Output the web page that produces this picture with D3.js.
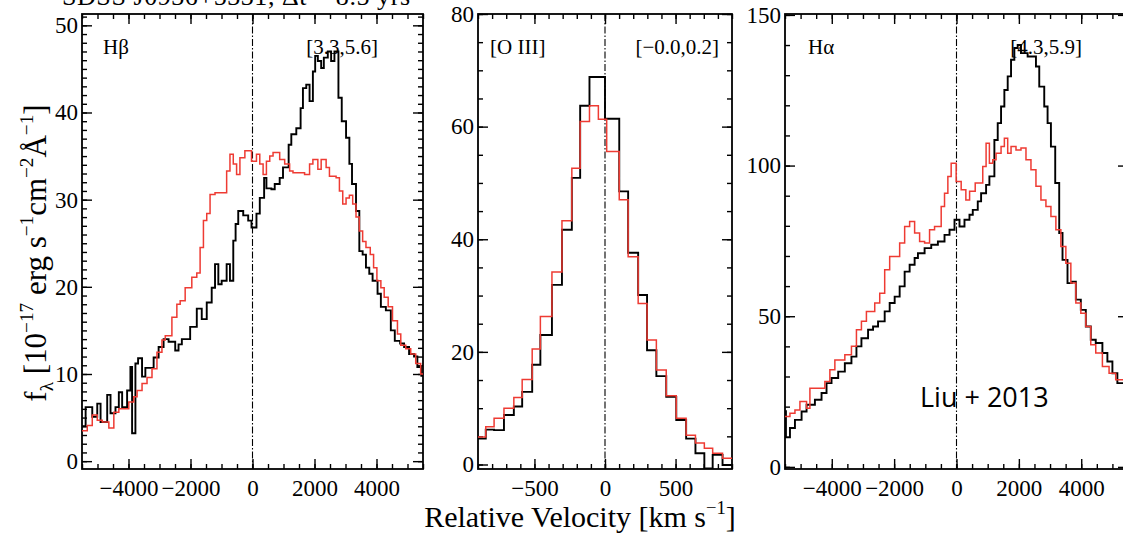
<!DOCTYPE html>
<html>
<head>
<meta charset="utf-8">
<script src="https://cdn.jsdelivr.net/npm/d3@7"></script>
<style>
body { margin: 0; background: #fff; }
svg text { font-family: "Liberation Serif", "Times New Roman", serif; fill: #000; }
</style>
</head>
<body>
<div id="chart"></div>
<script>
// ---- data (velocity = left edge of each step, km/s) ----
var hbBlackVel = [-5500,-5383,-5169,-5008,-4901,-4687,-4580,-4420,-4312,-4205,-4045,-3938,-3884,-3777,-3691,-3563,-3456,-3189,-3028,-2868,-2707,-2493,-2386,-2279,-2011,-1797,-1637,-1476,-1316,-1209,-1102,-995,-834,-727,-620,-545,-460,-299,-139,-32,128,235,375,449,610,717,877,984,1166,1252,1413,1552,1627,1734,1841,1948,2022,2108,2215,2301,2429,2536,2643,2772,2879,3018,3125,3210,3339,3446,3553,3660,3767,3874,4034,4141,4302,4462,4590,4762,4890,5051,5211,5318,5447];
var hbBlackFlux = [4.0,6.2,5.1,6.6,4.5,7.6,5.5,6.2,7.9,6.2,8.1,10.8,3.2,11.2,11.8,9.7,10.7,11.9,13.1,14.0,13.7,12.7,13.4,14.0,15.4,17.5,16.3,18.2,19.9,22.6,20.3,20.7,22.6,20.7,25.3,27.2,28.7,28.2,27.6,26.8,28.4,30.2,32.5,31.3,31.2,31.8,32.5,33.7,36.3,37.5,38.2,40.5,42.8,43.2,41.3,44.7,46.5,45.9,45.1,46.3,47.0,45.9,47.0,41.7,39.0,37.1,34.1,31.8,28.7,24.1,23.7,22.2,21.5,20.7,19.2,17.7,17.3,15.0,13.8,13.5,13.1,12.3,12.0,10.8,9.8];
var hbRedVel = [-5500,-5330,-5169,-5008,-4848,-4634,-4473,-4312,-3991,-3830,-3723,-3563,-3402,-3242,-3082,-2921,-2814,-2600,-2440,-2333,-2172,-1958,-1797,-1690,-1583,-1476,-1369,-1209,-834,-727,-620,-513,-406,-246,-32,128,235,342,449,556,663,877,1038,1198,1306,1680,1841,1948,2108,2215,2375,2482,2697,2804,2911,3018,3125,3232,3339,3446,3553,3660,3799,3906,4013,4141,4248,4377,4516,4676,4783,4944,5104,5265,5425];
var hbRedFlux = [3.5,4.1,5.3,4.7,4.5,3.8,5.6,6.0,6.8,7.4,8.1,8.9,9.6,10.6,12.5,13.9,14.4,16.5,18.0,18.4,19.9,21.1,21.6,24.5,27.6,28.4,30.6,30.8,33.3,35.2,34.1,32.9,34.8,35.6,34.4,35.2,34.1,32.9,34.4,35.0,35.4,34.6,34.1,33.3,33.1,32.9,34.1,34.6,33.5,34.6,33.7,32.7,32.5,31.0,29.5,30.2,30.5,29.5,28.0,26.4,25.2,24.5,23.7,22.2,20.7,19.9,18.8,17.7,16.1,14.6,13.3,12.9,12.3,11.2,10.0];

var oiiiBlackVel = [-900,-845,-786,-716,-646,-587,-516,-458,-376,-305,-235,-176,-110,0,101,164,235,298,364,434,505,575,641,704,763,833];
var oiiiBlackFlux = [4.6,6.2,6.1,8.8,10.3,12.9,17.7,23.0,31.9,41.7,50.9,63.7,68.8,61.4,48.5,37.6,30.1,20.3,15.7,12.0,7.9,4.6,2.0,-0.7,1.7,-0.1];
var oiiiRedVel = [-900,-845,-786,-716,-646,-587,-516,-458,-376,-305,-235,-176,-110,-47,12,101,164,235,298,364,434,505,575,641,704,763,833];
var oiiiRedFlux = [4.9,6.7,8.2,10.0,11.9,15.1,20.5,26.3,34.2,43.3,52.6,60.9,63.7,61.3,55.6,47.0,36.9,28.6,22.1,16.8,12.2,8.2,5.2,3.8,2.9,2.0,1.1];

var haBlackVel = [-5500,-5470,-5341,-5181,-4968,-4808,-4541,-4328,-4168,-4008,-3794,-3581,-3369,-3209,-3049,-2836,-2676,-2516,-2303,-2143,-1983,-1823,-1663,-1503,-1343,-1237,-1023,-810,-597,-384,-224,-64,96,256,416,522,682,789,949,1055,1215,1322,1429,1535,1642,1749,1855,1962,2068,2281,2548,2654,2814,2921,3028,3166,3294,3400,3560,3699,3827,3987,4147,4306,4466,4679,4839,5000,5159];
var haBlackFlux = [18.5,9.8,12.9,15.6,18.4,20.6,22.3,24.5,27.8,29.5,31.6,34.4,36.6,40.0,42.7,45.5,46.6,48.3,51.6,54.4,56.5,59.9,64.8,67.1,69.3,70.9,72.6,73.7,74.8,77.0,78.7,82.0,79.8,82.0,83.7,85.3,88.1,90.8,93.6,96.4,108.5,114.1,119.6,125.1,129.6,135.1,139.0,140.0,137.3,136.2,132.9,126.2,119.6,114.1,106.3,94.2,77.6,68.7,61.0,61.5,55.5,52.1,46.6,42.2,41.1,37.8,35.0,31.1,27.8];
var haRedVel = [-5500,-5341,-5181,-5021,-4808,-4701,-4222,-4061,-3901,-3581,-3369,-3209,-3049,-2889,-2622,-2462,-2303,-2143,-1823,-1663,-1503,-1343,-1183,-1023,-864,-704,-491,-384,-277,-171,-11,150,300,420,600,842,949,1055,1162,1269,1429,1535,1642,1749,1908,2068,2228,2388,2548,2708,2868,3028,3187,3347,3507,3667,3827,3987,4147,4306,4466,4679,4893,5106];
var haRedFlux = [16.7,17.8,18.9,21.7,19.5,26.1,28.3,32.2,35.5,37.2,40.0,45.5,48.3,51.6,54.4,57.6,65.4,69.8,74.3,79.8,81.4,77.6,74.8,74.3,78.7,79.8,86.4,90.8,96.4,100.8,94.7,92.0,88.6,91.5,94.2,99.7,107.4,100.8,101.9,104.1,106.3,109.1,104.1,106.3,105.2,105.8,101.9,98.6,93.1,88.6,86.4,83.1,78.7,73.1,67.6,61.0,54.4,51.0,46.6,40.5,37.8,33.3,31.1,28.9];

var broadVelTicks = [-4000, -2000, 0, 2000, 4000];
var narrowVelTicks = [-500, 0, 500];
var hbFluxTicks = [0, 10, 20, 30, 40, 50];
var oiiiFluxTicks = [0, 20, 40, 60, 80];
var haFluxTicks = [0, 50, 100, 150];

var lineNames = ["H\u03b2", "[O III]", "H\u03b1"];
var lineRanges = ["[3.3,5.6]", "[\u22120.0,0.2]", "[4.3,5.9]"];

// ---- layout ----
var W = 1123, H = 540;
var plotTop = 14, plotBottom = 469;
var red = "#ee3b33";

var panels = [
	{ x0: 82, x1: 423, xDom: [-5500, 5500], yDom: [-0.9, 51.3], xTicks: broadVelTicks, xMinor: 500,
	  yTicks: hbFluxTicks, yMinor: 1, black: [hbBlackVel, hbBlackFlux], red: [hbRedVel, hbRedFlux],
	  name: lineNames[0], range: lineRanges[0], nameX: 103, rangeX: 378 },
	{ x0: 478, x1: 732, xDom: [-900, 900], yDom: [-0.8, 80], xTicks: narrowVelTicks, xMinor: 100,
	  yTicks: oiiiFluxTicks, yMinor: 5, black: [oiiiBlackVel, oiiiBlackFlux], red: [oiiiRedVel, oiiiRedFlux],
	  name: lineNames[1], range: lineRanges[1], nameX: 490, rangeX: 719 },
	{ x0: 785, x1: 1128, xDom: [-5500, 5500], yDom: [-0.7, 150.3], xTicks: broadVelTicks, xMinor: 500,
	  yTicks: haFluxTicks, yMinor: 10, black: [haBlackVel, haBlackFlux], red: [haRedVel, haRedFlux],
	  name: lineNames[2], range: lineRanges[2], nameX: 808, rangeX: 1082 }
];

var svg = d3.select("#chart").append("svg")
	.attr("width", W)
	.attr("height", H);

function minorValues(dom, step) {
	return d3.range(Math.ceil(dom[0] / step) * step, dom[1] + 1e-9, step);
}

function styleAxis(g) {
	g.select(".domain").remove();
	g.selectAll("line").attr("stroke", "#000").attr("stroke-width", 1.4);
	g.attr("font-family", "Liberation Serif, serif").attr("font-size", 23);
}

// tick marks only, no label elements
function bare(g) {
	styleAxis(g);
	g.selectAll("text").remove();
}

panels.forEach(function(p, i) {
	var x = d3.scaleLinear().domain(p.xDom).range([p.x0, p.x1]);
	var y = d3.scaleLinear().domain(p.yDom).range([plotBottom, plotTop]);
	var g = svg.append("g");

	// clip for the spectra
	var clipId = "clip" + i;
	svg.append("clipPath").attr("id", clipId)
		.append("rect")
			.attr("x", p.x0).attr("y", plotTop)
			.attr("width", p.x1 - p.x0).attr("height", plotBottom - plotTop);

	// axes: major + minor on all four sides, ticks pointing inward
	var xMin = minorValues(p.xDom, p.xMinor);
	var yMin = minorValues([Math.max(0, p.yDom[0]), p.yDom[1]], p.yMinor);

	g.append("g").attr("transform", "translate(0," + plotBottom + ")")
		.call(d3.axisBottom(x).tickValues(xMin).tickSize(-5))
		.call(bare);
	g.append("g").attr("transform", "translate(0," + plotBottom + ")")
		.call(d3.axisBottom(x).tickValues(p.xTicks).tickSize(-10).tickPadding(11).tickFormat(d3.format("d")))
		.call(styleAxis);
	g.append("g").attr("transform", "translate(0," + plotTop + ")")
		.call(d3.axisTop(x).tickValues(xMin).tickSize(-5))
		.call(bare);
	g.append("g").attr("transform", "translate(0," + plotTop + ")")
		.call(d3.axisTop(x).tickValues(p.xTicks).tickSize(-10))
		.call(bare);

	g.append("g").attr("transform", "translate(" + p.x0 + ",0)")
		.call(d3.axisLeft(y).tickValues(yMin).tickSize(-5))
		.call(bare);
	g.append("g").attr("transform", "translate(" + p.x0 + ",0)")
		.call(d3.axisLeft(y).tickValues(p.yTicks).tickSize(-10).tickPadding(4).tickFormat(d3.format("d")))
		.call(styleAxis);
	g.append("g").attr("transform", "translate(" + p.x1 + ",0)")
		.call(d3.axisRight(y).tickValues(yMin).tickSize(-5))
		.call(bare);
	g.append("g").attr("transform", "translate(" + p.x1 + ",0)")
		.call(d3.axisRight(y).tickValues(p.yTicks).tickSize(-10))
		.call(bare);

	// frame
	g.append("rect")
		.attr("x", p.x0).attr("y", plotTop)
		.attr("width", p.x1 - p.x0).attr("height", plotBottom - plotTop)
		.style("fill", "none").style("stroke", "#000").style("stroke-width", 1.8);

	// zero-velocity dash-dot line
	g.append("line")
		.attr("x1", x(0)).attr("x2", x(0))
		.attr("y1", plotTop).attr("y2", plotBottom)
		.style("stroke", "#000").style("stroke-width", 1.1)
		.style("stroke-dasharray", "7,2,1.5,2");

	// the two spectra as step curves
	var line = d3.line()
		.x(function(d) { return x(d[0]); })
		.y(function(d) { return y(d[1]); })
		.curve(d3.curveStepAfter);

	function steps(s) {
		var pts = s[0].map(function(v, k) { return [v, s[1][k]]; });
		pts.push([p.xDom[1], s[1][s[1].length - 1]]);
		return pts;
	}

	var spec = g.append("g").attr("clip-path", "url(#" + clipId + ")");
	spec.append("path").attr("d", line(steps(p.black)))
		.style("fill", "none").style("stroke", "#000").style("stroke-width", 1.9);
	spec.append("path").attr("d", line(steps(p.red)))
		.style("fill", "none").style("stroke", red).style("stroke-width", 1.5);

	// line name and range labels
	g.append("text").attr("x", p.nameX).attr("y", 54)
		.attr("font-size", 21).text(p.name);
	g.append("text").attr("x", p.rangeX).attr("y", 54)
		.attr("text-anchor", "end").attr("font-size", 21).text(p.range);
});

// text with super/subscripts
function richText(sel, parts, size) {
	var shift = 0;
	parts.forEach(function(part) {
		var want = part.sup ? -size * 0.42 : (part.sub ? size * 0.22 : 0);
		var t = sel.append("tspan").attr("dy", want - shift).text(part.t);
		if (part.sup || part.sub) t.attr("font-size", size * 0.62);
		shift = want;
	});
}

// y axis title
var yTitle = svg.append("text")
	.attr("transform", "translate(46,253) rotate(-90)")
	.attr("text-anchor", "middle")
	.attr("font-size", 31);
richText(yTitle, [
	{ t: "f" }, { t: "\u03bb", sub: true }, { t: " [10" }, { t: "\u221217", sup: true },
	{ t: " erg s" }, { t: "\u22121", sup: true }, { t: "cm" }, { t: "\u22122", sup: true },
	{ t: "\u00c5" }, { t: "\u22121", sup: true }, { t: "]" }
], 31);

// x axis title
var xTitle = svg.append("text")
	.attr("x", 580).attr("y", 527)
	.attr("text-anchor", "middle")
	.attr("font-size", 30);
richText(xTitle, [
	{ t: "Relative Velocity [km s" }, { t: "\u22121", sup: true }, { t: "]" }
], 30);

// figure title, cut off at the top edge as in the source
svg.append("text")
	.attr("x", 62).attr("y", 5)
	.attr("font-size", 26)
	.attr("textLength", 348)
	.text("SDSS J0936+5331, \u0394t ~ 8.5 yrs");

// credit
svg.append("text")
	.attr("x", 920).attr("y", 407)
	.style("font-family", "'Open Sans', 'Noto Sans', sans-serif")
	.attr("font-size", 27)
	.text("Liu + 2013");
</script>
</body>
</html>
